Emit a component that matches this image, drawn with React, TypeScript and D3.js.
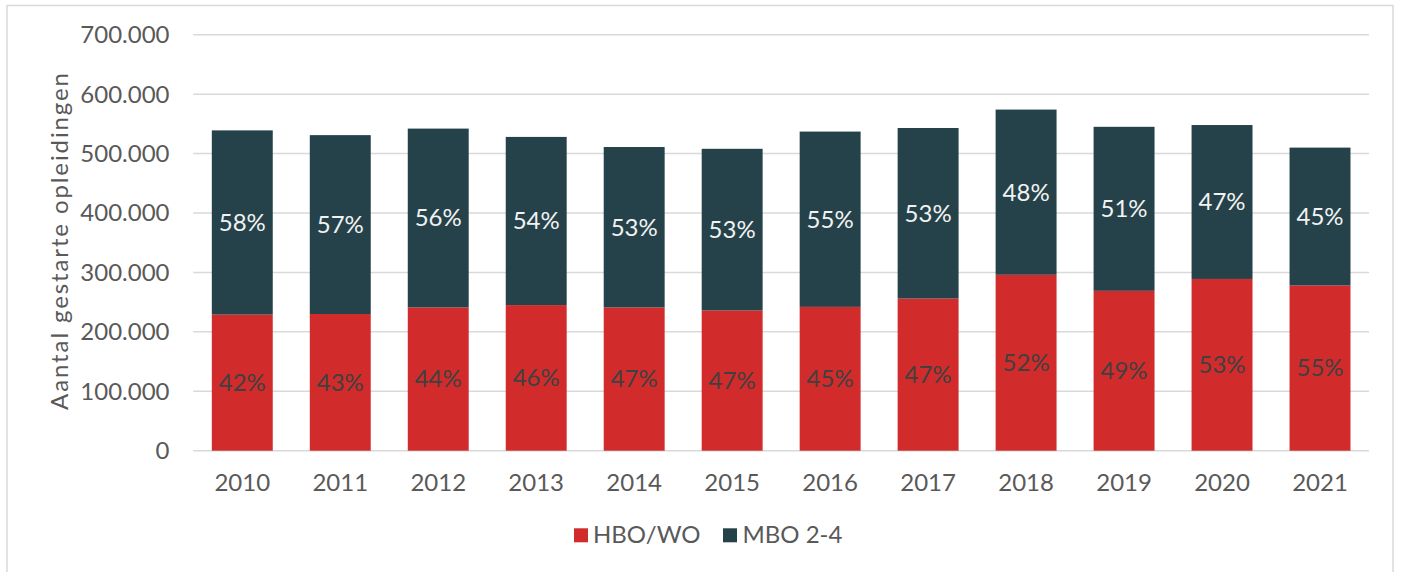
import React from 'react';
import * as d3 from 'd3';

const years = ['2010', '2011', '2012', '2013', '2014', '2015', '2016', '2017', '2018', '2019', '2020', '2021'];
const hboWo = [229000, 230000, 241000, 245000, 241000, 236000, 242000, 256000, 296000, 269000, 289000, 278000];
const mbo = [310000, 301000, 301000, 283000, 270000, 272000, 295000, 287000, 278000, 276000, 259000, 232000];
const hboLabels = ['42%', '43%', '44%', '46%', '47%', '47%', '45%', '47%', '52%', '49%', '53%', '55%'];
const mboLabels = ['58%', '57%', '56%', '54%', '53%', '53%', '55%', '53%', '48%', '51%', '47%', '45%'];
const yTicks = [0, 100000, 200000, 300000, 400000, 500000, 600000, 700000];

const W = 1402;
const H = 572;
const FONT = 'Lato, "Open Sans", sans-serif';
const FS = 24;
const RED = '#D12C2B';
const DARK = '#25424A';
const TEXT = '#595959';
const GRID = '#D9D9D9';

const fmt = (v: number) => (v === 0 ? '0' : d3.format(',')(v).replace(/,/g, '.'));

export default function App() {
  const margin = { top: 34.7, right: 33, bottom: 121.3, left: 193.3 };
  const x = d3.scaleBand<string>()
    .domain(years)
    .range([margin.left, W - margin.right])
    .paddingInner(0.378)
    .paddingOuter(0.189);
  const y = d3.scaleLinear()
    .domain([0, 700000])
    .range([H - margin.bottom, margin.top]);

  const rows = years.map((yr, i) => ({ year: yr, hbo: hboWo[i], mbo: mbo[i] }));
  const stack = d3.stack<any>().keys(['hbo', 'mbo'])(rows);
  const colors = [RED, DARK];
  const labels = [hboLabels, mboLabels];
  const labelColors = ['#404040', '#F2F2F2'];

  return (
    <svg width={W} height={H} style={{ position: 'absolute', left: 0, top: 0 }} fontFamily={FONT}>
      <rect x={7} y={5.5} width={1386} height={580} fill="#fff" stroke={GRID} strokeWidth={1.5} />
      {yTicks.map(t => (
        <g key={t}>
          <line x1={margin.left} x2={W - margin.right} y1={y(t)} y2={y(t)} stroke={GRID} strokeWidth={1.5} />
          <text x={169.5} y={y(t)} dy="0.35em" textAnchor="end" fontSize={FS} fill={TEXT}>{fmt(t)}</text>
        </g>
      ))}
      <text
        transform={`translate(${59.5},${241.5}) rotate(-90)`}
        textAnchor="middle"
        dy="0.35em"
        fontSize={FS}
        textLength={337}
        lengthAdjust="spacing"
        fill={TEXT}
      >Aantal gestarte opleidingen</text>
      {stack.map((s, si) => (
        <g key={s.key}>
          {s.map((d, i) => (
            <g key={i}>
              <rect
                x={x(years[i])}
                y={y(d[1])}
                width={x.bandwidth()}
                height={y(d[0]) - y(d[1])}
                fill={colors[si]}
              />
              <text
                x={(x(years[i]) as number) + x.bandwidth() / 2}
                y={(y(d[0]) + y(d[1])) / 2}
                dy="0.35em"
                textAnchor="middle"
                fontSize={FS}
                fill={labelColors[si]}
              >{labels[si][i]}</text>
            </g>
          ))}
        </g>
      ))}
      {years.map(yr => (
        <text key={yr} x={(x(yr) as number) + x.bandwidth() / 2} y={482.3} dy="0.35em" textAnchor="middle" fontSize={FS} fill={TEXT}>{yr}</text>
      ))}
      <g>
        <rect x={574} y={528.3} width={14} height={14} fill={RED} />
        <text x={593} y={535} dy="0.35em" fontSize={FS} fill={TEXT}>HBO/WO</text>
        <rect x={723} y={528.3} width={14} height={14} fill={DARK} />
        <text x={742.5} y={535} dy="0.35em" fontSize={FS} fill={TEXT}>MBO 2-4</text>
      </g>
    </svg>
  );
}
